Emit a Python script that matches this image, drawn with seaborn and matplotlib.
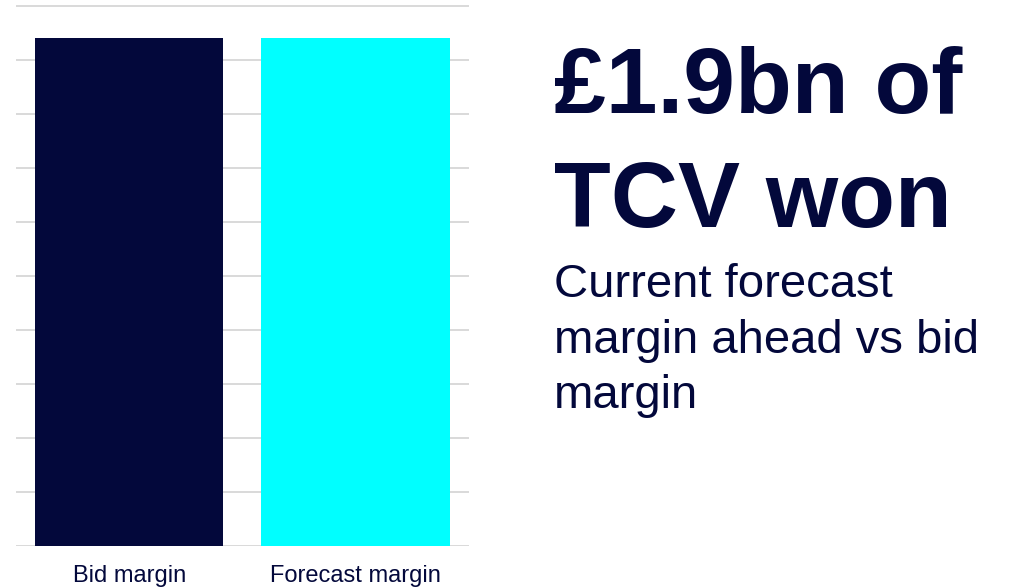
import matplotlib
matplotlib.use("Agg")
import matplotlib.pyplot as plt
import pandas as pd
import seaborn as sns

# chart data
categories = ["Bid margin", "Forecast margin"]
values = [9.4, 9.4]
bar_colors = ["#03083B", "#00FFFF"]
headline = ["£1.9bn of", "TCV won"]
subtitle = ["Current forecast", "margin ahead vs bid", "margin"]

NAVY = "#03083B"

sns.set_style("white")
plt.rcParams["font.family"] = ["Liberation Sans", "DejaVu Sans"]

df = pd.DataFrame({"category": categories, "value": values})

fig = plt.figure(figsize=(10.12, 5.88), dpi=100)
ax = fig.add_axes([16 / 1012, 42 / 588, 452.7 / 1012, 546 / 588])

sns.barplot(
    data=df, x="category", y="value", hue="category",
    palette=dict(zip(categories, bar_colors)), width=0.833,
    legend=False, ax=ax, saturation=1, linewidth=0,
)

ax.set_xlim(-0.5, 1.5)
ax.set_ylim(0, 10.105)
ax.set_yticks(range(0, 11))
ax.set_yticklabels([])
ax.yaxis.grid(True, color="#d9d9d9", linewidth=1.4)
ax.set_axisbelow(True)
ax.tick_params(axis="y", length=0)
ax.tick_params(axis="x", length=0, pad=14, labelsize=17, labelcolor=NAVY)
ax.set_xlabel("")
ax.set_ylabel("")
for s in ax.spines.values():
    s.set_visible(False)

# headline and commentary on the right
for line, y in zip(headline, [113, 227]):
    fig.text(554 / 1012, 1 - y / 588, line, fontsize=67, fontweight="bold",
             color=NAVY, va="baseline", ha="left")
for line, y in zip(subtitle, [297, 353, 408]):
    fig.text(554 / 1012, 1 - y / 588, line, fontsize=34,
             color=NAVY, va="baseline", ha="left")

fig.savefig("out.png", dpi=100)
plt.close(fig)
